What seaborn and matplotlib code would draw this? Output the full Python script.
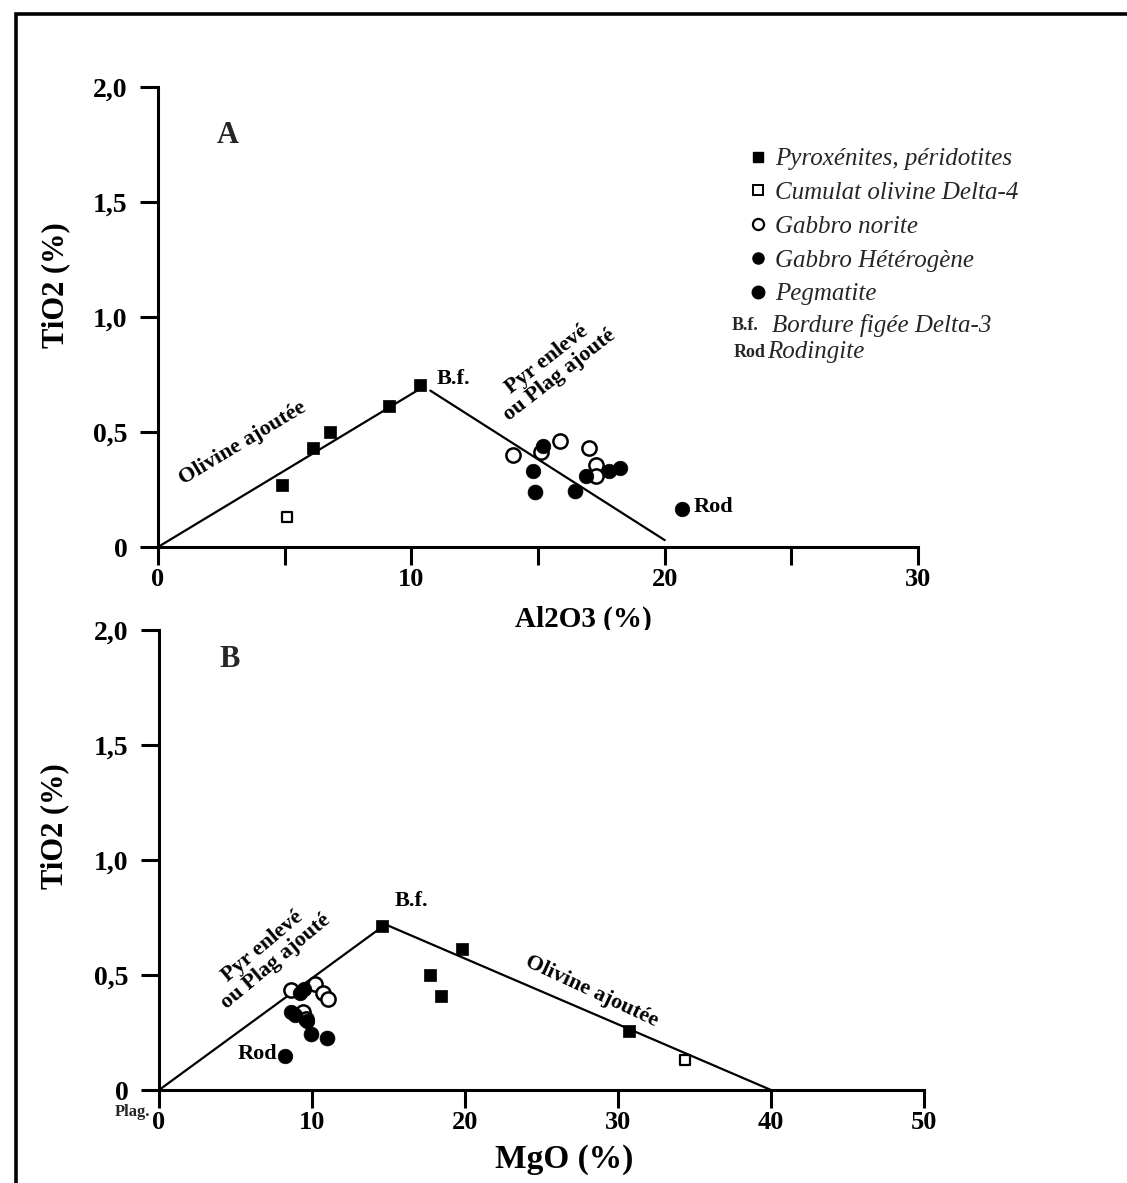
import matplotlib
matplotlib.use("Agg")
import matplotlib.pyplot as plt
import seaborn as sns
import pandas as pd
from matplotlib.lines import Line2D
from matplotlib.patches import Rectangle

# ---------------- data ----------------
# Panel A : Al2O3 (%) vs TiO2 (%)
pyrox_A_x = [4.9, 6.1, 6.8, 9.1, 10.35]
pyrox_A_y = [0.27, 0.43, 0.50, 0.615, 0.705]
cumul_A_x = [5.1]
cumul_A_y = [0.13]
norite_A_x = [14.0, 15.1, 15.85, 17.0, 17.3, 17.3]
norite_A_y = [0.40, 0.415, 0.46, 0.43, 0.355, 0.31]
hetero_A_x = [15.2, 14.8, 16.9, 17.8, 18.25]
hetero_A_y = [0.44, 0.33, 0.31, 0.33, 0.345]
pegma_A_x = [14.9, 16.45]
pegma_A_y = [0.24, 0.245]
rod_A_x = [20.7]
rod_A_y = [0.165]
trendA1_x = [0, 10.45]
trendA1_y = [0, 0.695]
trendA2_x = [10.75, 20.0]
trendA2_y = [0.68, 0.03]

# Panel B : MgO (%) vs TiO2 (%)
pyrox_B_x = [14.6, 19.8, 17.7, 18.4, 30.7]
pyrox_B_y = [0.715, 0.615, 0.50, 0.41, 0.255]
cumul_B_x = [34.4]
cumul_B_y = [0.13]
norite_B_x = [8.6, 10.2, 10.75, 11.05, 9.4, 9.6]
norite_B_y = [0.435, 0.46, 0.42, 0.395, 0.34, 0.31]
hetero_B_x = [9.2, 9.5, 8.6, 8.9, 9.7]
hetero_B_y = [0.42, 0.44, 0.34, 0.325, 0.30]
pegma_B_x = [9.95, 11.0]
pegma_B_y = [0.243, 0.228]
rod_B_x = [8.25]
rod_B_y = [0.15]
trendB_x = [0, 14.8, 40]
trendB_y = [0, 0.72, 0]

ytick_vals = [0, 0.5, 1.0, 1.5, 2.0]
ytick_labels = ["0", "0,5", "1,0", "1,5", "2,0"]
xA_major = [0, 10, 20, 30]
xA_minor = [5, 15, 25]
xB_major = [0, 10, 20, 30, 40, 50]

legend_labels = ["Pyroxénites, péridotites", "Cumulat olivine Delta-4",
                 "Gabbro norite", "Gabbro Hétérogène", "Pegmatite"]

# ---------------- style ----------------
sns.set_theme(style="ticks")
plt.rcParams["font.family"] = ["Liberation Serif", "DejaVu Serif"]
plt.rcParams["font.weight"] = "bold"

fig = plt.figure(figsize=(11.27, 11.83), dpi=100)
fig.patch.set_facecolor("white")

axA = fig.add_axes([0.1402, 0.5376, 0.6744, 0.3888])
axB = fig.add_axes([0.1411, 0.0786, 0.6788, 0.3888])

# outer frame
fig.patches.append(Rectangle((0.0145, -0.05), 1.2, 1.038, transform=fig.transFigure,
                             fill=False, edgecolor="black", linewidth=2.6, zorder=0))


def df_of(x, y):
    return pd.DataFrame({"x": x, "y": y})


def draw_points(ax, px, py, cx, cy, nx, ny, hx, hy, gx, gy, rx, ry):
    kw = dict(ax=ax, legend=False, clip_on=False, zorder=5)
    sns.scatterplot(data=df_of(px, py), x="x", y="y", marker="s", s=85,
                    color="black", edgecolor="black", linewidth=0.5, **kw)
    sns.scatterplot(data=df_of(cx, cy), x="x", y="y", marker="s", s=60,
                    facecolor="white", edgecolor="black", linewidth=1.6, **kw)
    sns.scatterplot(data=df_of(nx, ny), x="x", y="y", marker="o", s=105,
                    facecolor="white", edgecolor="black", linewidth=1.8, **kw)
    sns.scatterplot(data=df_of(hx, hy), x="x", y="y", marker="o", s=110,
                    color="black", edgecolor="black", linewidth=0.5, **kw)
    sns.scatterplot(data=df_of(gx, gy), x="x", y="y", marker="o", s=115,
                    color="black", edgecolor="black", linewidth=0.5, **kw)
    sns.scatterplot(data=df_of(rx, ry), x="x", y="y", marker="o", s=110,
                    color="black", edgecolor="black", linewidth=0.5, **kw)


def style_axes(ax, xmax, xmajor, xminor=None):
    ax.set_xlim(0, xmax)
    ax.set_ylim(0, 2.0)
    for s in ["top", "right"]:
        ax.spines[s].set_visible(False)
    ax.spines["left"].set_linewidth(2.2)
    ax.spines["bottom"].set_linewidth(2.2)
    ax.spines["left"].set_color("black")
    ax.spines["bottom"].set_color("black")
    ax.set_yticks(ytick_vals)
    ax.set_yticklabels(ytick_labels)
    ax.set_xticks(xmajor)
    ax.set_xticklabels([str(v) for v in xmajor])
    if xminor:
        ax.set_xticks(xminor, minor=True)
    ax.tick_params(axis="both", which="both", direction="out", length=13,
                   width=2.2, color="black", labelcolor="black")
    ax.tick_params(axis="y", pad=9, labelsize=20)
    ax.tick_params(axis="x", pad=2, labelsize=19)
    for lab in ax.get_xticklabels() + ax.get_yticklabels():
        lab.set_fontweight("bold")
    ax.set_facecolor("white")
    ax.grid(False)


ann = dict(fontsize=16, fontweight="bold", color="black")

# ---------------- Panel A ----------------
sns.lineplot(x=trendA1_x, y=trendA1_y, ax=axA, color="black", linewidth=1.6,
             sort=False, estimator=None)
sns.lineplot(x=trendA2_x, y=trendA2_y, ax=axA, color="black", linewidth=1.6,
             sort=False, estimator=None)
draw_points(axA, pyrox_A_x, pyrox_A_y, cumul_A_x, cumul_A_y, norite_A_x, norite_A_y,
            hetero_A_x, hetero_A_y, pegma_A_x, pegma_A_y, rod_A_x, rod_A_y)
style_axes(axA, 30, xA_major, xA_minor)
axA.set_xlabel("Al2O3 (%)", fontsize=21, fontweight="bold", color="black")
axA.set_ylabel("TiO2 (%)", fontsize=22, fontweight="bold", color="black")
axA.xaxis.set_label_coords(0.56, -0.128)
axA.yaxis.set_label_coords(-0.115, 0.57)

axA.text(2.75, 1.79, "A", fontsize=22, fontweight="bold", ha="center", va="center")
axA.text(11.0, 0.73, "B.f.", ha="left", va="center", **ann)
axA.text(3.35, 0.45, "Olivine ajoutée", ha="center", va="center", rotation=31,
         rotation_mode="anchor", **ann)
axA.text(15.6, 0.78, "Pyr enlevé\nou Plag ajouté", ha="center", va="center",
         rotation=38, rotation_mode="anchor", linespacing=1.0, **ann)
axA.text(rod_A_x[0] + 0.45, rod_A_y[0] + 0.01, "Rod", ha="left", va="center", **ann)

# legend
handles = [
    Line2D([], [], marker="s", linestyle="none", markersize=7, color="black"),
    Line2D([], [], marker="s", linestyle="none", markersize=7,
           markerfacecolor="white", markeredgecolor="black", markeredgewidth=1.4),
    Line2D([], [], marker="o", linestyle="none", markersize=8,
           markerfacecolor="white", markeredgecolor="black", markeredgewidth=1.6),
    Line2D([], [], marker="o", linestyle="none", markersize=8, color="black"),
    Line2D([], [], marker="o", linestyle="none", markersize=9, color="black"),
]
leg = axA.legend(handles, legend_labels, loc="upper left",
                 bbox_to_anchor=(0.779, 0.868), frameon=False,
                 prop={"family": "Liberation Serif", "style": "italic",
                       "weight": "normal", "size": 18},
                 handlelength=0.6, handletextpad=0.4, borderpad=0,
                 borderaxespad=0, labelspacing=0.45)
axA.text(0.755, 0.482, "B.f.", transform=axA.transAxes, fontsize=13,
         fontweight="bold", ha="left", va="center")
axA.text(0.808, 0.482, "Bordure figée Delta-3", transform=axA.transAxes,
         fontsize=18, style="italic", fontweight="normal", ha="left", va="center")
axA.text(0.757, 0.423, "Rod", transform=axA.transAxes, fontsize=13,
         fontweight="bold", ha="left", va="center")
axA.text(0.802, 0.423, "Rodingite", transform=axA.transAxes,
         fontsize=18, style="italic", fontweight="normal", ha="left", va="center")

# ---------------- Panel B ----------------
sns.lineplot(x=trendB_x, y=trendB_y, ax=axB, color="black", linewidth=1.6,
             sort=False, estimator=None)
draw_points(axB, pyrox_B_x, pyrox_B_y, cumul_B_x, cumul_B_y, norite_B_x, norite_B_y,
            hetero_B_x, hetero_B_y, pegma_B_x, pegma_B_y, rod_B_x, rod_B_y)
style_axes(axB, 50, xB_major)
axB.set_xlabel("MgO (%)", fontsize=24, fontweight="bold", color="black")
axB.set_ylabel("TiO2 (%)", fontsize=22, fontweight="bold", color="black")
axB.xaxis.set_label_coords(0.53, -0.118)
axB.yaxis.set_label_coords(-0.118, 0.574)

axB.text(4.6, 1.87, "B", fontsize=22, fontweight="bold", ha="center", va="center")
axB.text(16.5, 0.82, "B.f.", ha="center", va="center", **ann)
axB.text(7.2, 0.59, "Pyr enlevé\nou Plag ajouté", ha="center", va="center",
         rotation=40, rotation_mode="anchor", linespacing=1.0, **ann)
axB.text(28.3, 0.43, "Olivine ajoutée", ha="center", va="center",
         rotation=-25, rotation_mode="anchor", **ann)
axB.text(rod_B_x[0] - 0.5, rod_B_y[0] + 0.005, "Rod", ha="right", va="center", **ann)
axB.text(-1.7, -0.095, "Plag.", fontsize=12, fontweight="bold", ha="center",
         va="center", clip_on=False)

fig.savefig("out.png", dpi=100, facecolor="white")
